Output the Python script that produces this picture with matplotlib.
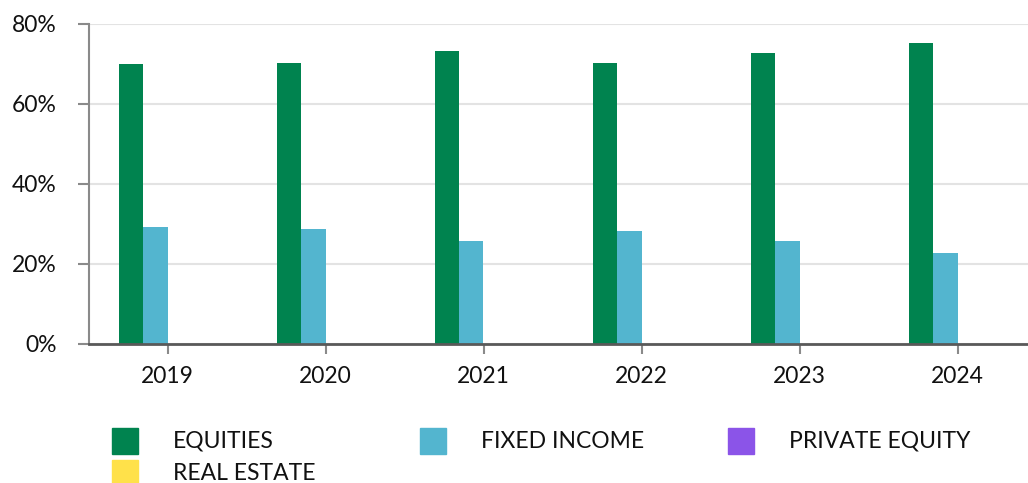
import numpy as np
import matplotlib
matplotlib.use("Agg")
import matplotlib.pyplot as plt
from matplotlib.patches import Rectangle

years = ["2019", "2020", "2021", "2022", "2023", "2024"]
equities = [70.0, 70.3, 73.3, 70.3, 72.8, 75.3]
fixed_income = [29.3, 28.8, 25.8, 28.3, 25.8, 22.8]
private_equity = [0, 0, 0, 0, 0, 0]
real_estate = [0, 0, 0, 0, 0, 0]

series_names = ["EQUITIES", "FIXED INCOME", "PRIVATE EQUITY", "REAL ESTATE"]
series_vals = [equities, fixed_income, private_equity, real_estate]
colors = ["#00834f", "#53b5cf", "#8b54e8", "#ffe14a"]

plt.rcParams["font.family"] = ["Lato", "DejaVu Sans"]

W, H = 1028, 483
fig = plt.figure(figsize=(W / 100, H / 100), dpi=100)
ax = fig.add_axes([88.5 / W, 139 / H, 948 / W, 320 / H])

x = np.arange(len(years))
bw = 0.152
for i, (vals, c) in enumerate(zip(series_vals, colors)):
    ax.bar(x + (i - 1.5) * bw, vals, bw, color=c, zorder=3)

ax.set_xlim(-0.5, 5.5)
ax.set_ylim(0, 80)
ax.set_yticks([0, 20, 40, 60, 80])
ax.set_yticklabels(["0%", "20%", "40%", "60%", "80%"])
ax.set_xticks(x)
ax.set_xticklabels(years)
ax.grid(axis="y", color="#e3e3e3", linewidth=1.5, zorder=0)
for s in ["top", "right"]:
    ax.spines[s].set_visible(False)
ax.spines["left"].set_color("#8a8a8a")
ax.spines["left"].set_linewidth(1.5)
ax.spines["bottom"].set_color("#595959")
ax.spines["bottom"].set_linewidth(2)
ax.spines["bottom"].set_zorder(4)
ax.tick_params(axis="y", length=8, width=1.5, color="#8a8a8a", pad=15,
               labelsize=16.5, labelcolor="#111111")
ax.tick_params(axis="x", length=7.5, width=1.5, color="#8a8a8a", pad=8,
               labelsize=16.5, labelcolor="#111111")

# legend drawn by hand, row-wise in three equal columns
leg_pos = [(112, 441), (420, 441), (728, 441), (112, 473)]
for (px, py), name, c in zip(leg_pos, series_names, colors):
    fig.add_artist(Rectangle((px / W, (H - py - 13) / H), 26 / W, 26 / H,
                             transform=fig.transFigure, color=c))
    fig.text((px + 61) / W, (H - py) / H, name, fontsize=16.5,
             color="#111111", va="center", ha="left")

fig.savefig("out.png", dpi=100)
